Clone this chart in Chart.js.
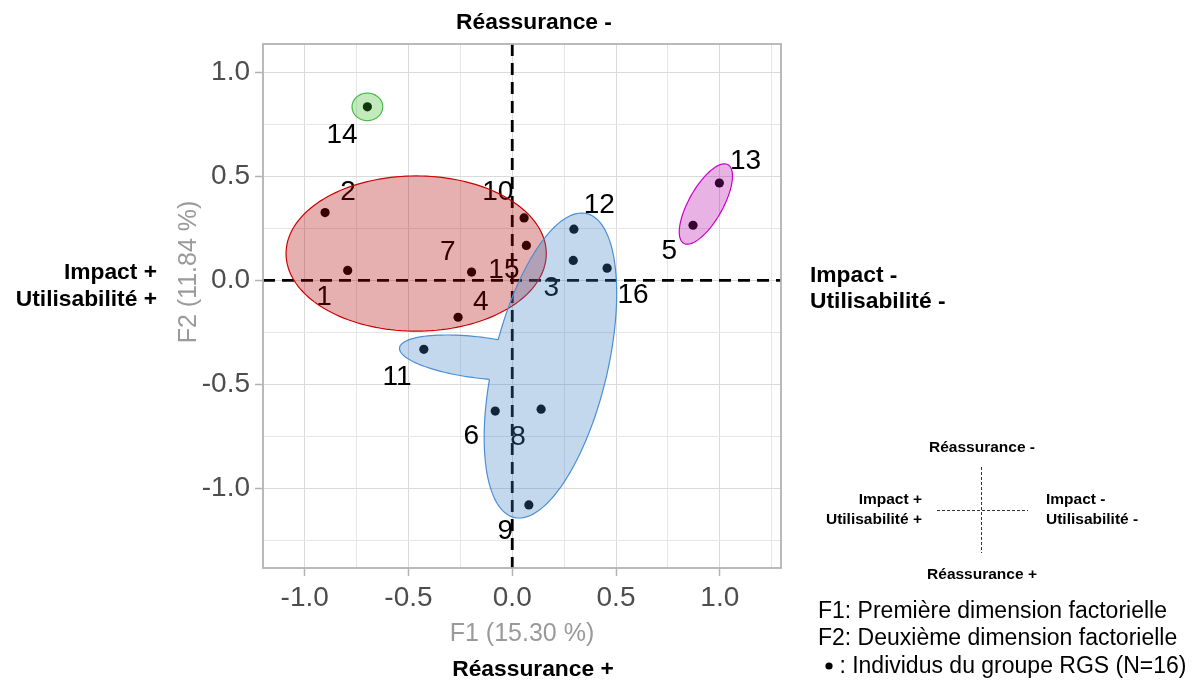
<!DOCTYPE html>
<html>
<head>
<meta charset="utf-8">
<script src="https://cdn.jsdelivr.net/npm/chart.js@4.4.1/dist/chart.umd.min.js"></script>
<style>
html,body{margin:0;padding:0;background:#ffffff;}
canvas{display:block;}
</style>
</head>
<body>
<canvas id="c" width="1204" height="680"></canvas>
<script>
// ---- data ----
const ids    = ['1','2','3','4','5','6','7','8','9','10','11','12','13','14','15','16'];
const f1     = [-0.793,-0.902, 0.294,-0.261, 0.871,-0.082,-0.196, 0.139, 0.080, 0.057,-0.426, 0.297, 0.998,-0.698, 0.068, 0.457];
const f2     = [ 0.048, 0.326, 0.096,-0.177, 0.265,-0.628, 0.040,-0.619,-1.079, 0.300,-0.331, 0.246, 0.468, 0.834, 0.168, 0.059];
// label anchor (repelled positions) in factor units
const labelF1 = [-0.907,-0.791, 0.188,-0.151, 0.757,-0.197,-0.310, 0.028,-0.033,-0.070,-0.555, 0.419, 1.124,-0.820,-0.040, 0.582];
const labelF2 = [-0.080, 0.425,-0.040,-0.104, 0.141,-0.748, 0.136,-0.755,-1.205, 0.425,-0.467, 0.361, 0.571, 0.698, 0.048,-0.072];

// cluster ellipses: centre and two semi-axis vectors, factor units
const redCentre   = [-0.463, 0.129], redU   = [0.627, 0.000], redV   = [0.000, 0.373];
const greenCentre = [-0.698, 0.834], greenU = [0.074, 0.000], greenV = [0.000, 0.066];
const pinkCentre  = [ 0.933, 0.367], pinkU  = [0.1066, 0.1888], pinkV = [0.0714,-0.0402];
const blueCentre  = [ 0.184,-0.409], blueU  = [0.175, 0.730], blueV  = [0.267,-0.064];
const lobeCentre  = [-0.160,-0.371], lobeU  = [0.383,-0.047], lobeV  = [-0.012,-0.098];

const xMin = -1.201, xMax = 1.295, yMin = -1.382, yMax = 1.136;
const tickStep = 0.25;

const FONT = "'Liberation Sans', Arial, Helvetica, sans-serif";
const isMajor = v => Math.abs(v*2 - Math.round(v*2)) < 1e-6;

function ellipsePts(chart, c, u, v, n){
  const xs = chart.scales.x, ys = chart.scales.y;
  const pts = [];
  for(let i=0;i<n;i++){
    const t = 2*Math.PI*i/n;
    const X = c[0] + Math.cos(t)*u[0] + Math.sin(t)*v[0];
    const Y = c[1] + Math.cos(t)*u[1] + Math.sin(t)*v[1];
    pts.push([xs.getPixelForValue(X), ys.getPixelForValue(Y)]);
  }
  return pts;
}
function signedArea(p){let a=0;for(let i=0;i<p.length;i++){const q=p[(i+1)%p.length];a+=p[i][0]*q[1]-q[0]*p[i][1];}return a;}
function addPoly(ctx, p){ctx.moveTo(p[0][0],p[0][1]);for(let i=1;i<p.length;i++)ctx.lineTo(p[i][0],p[i][1]);ctx.closePath();}

function drawEllipse(ctx, pts, fill, stroke){
  ctx.beginPath(); addPoly(ctx, pts);
  ctx.fillStyle = fill; ctx.fill();
  ctx.strokeStyle = stroke; ctx.lineWidth = 1.2; ctx.stroke();
}

const overlay = {
  id:'overlay',
  beforeDatasetsDraw(chart){
    const ctx = chart.ctx, a = chart.chartArea;
    const x0 = chart.scales.x.getPixelForValue(0), y0 = chart.scales.y.getPixelForValue(0);
    ctx.save();
    ctx.strokeStyle = '#000'; ctx.lineWidth = 2.8; ctx.setLineDash([12,7]);
    ctx.beginPath(); ctx.moveTo(a.left, y0); ctx.lineTo(a.right, y0); ctx.stroke();
    ctx.beginPath(); ctx.moveTo(x0, a.top); ctx.lineTo(x0, a.bottom); ctx.stroke();
    ctx.restore();
  },
  afterDatasetsDraw(chart){
    const ctx = chart.ctx, a = chart.chartArea;
    const xs = chart.scales.x, ys = chart.scales.y;
    ctx.save();
    // point labels
    ctx.fillStyle = '#000'; ctx.font = '28px ' + FONT;
    ctx.textAlign = 'center'; ctx.textBaseline = 'middle';
    ids.forEach((t,i)=>ctx.fillText(t, xs.getPixelForValue(labelF1[i]), ys.getPixelForValue(labelF2[i])));

    // red cluster
    drawEllipse(ctx, ellipsePts(chart, redCentre, redU, redV, 160), 'rgba(175,0,0,0.31)', '#cc0000');

    // blue cluster = union of main ellipse and lobe
    let m = ellipsePts(chart, blueCentre, blueU, blueV, 180);
    let l = ellipsePts(chart, lobeCentre, lobeU, lobeV, 120);
    if (Math.sign(signedArea(m)) !== Math.sign(signedArea(l))) l = l.reverse();
    ctx.beginPath(); addPoly(ctx, m); addPoly(ctx, l);
    ctx.fillStyle = 'rgba(58,125,195,0.30)'; ctx.fill('nonzero');
    ctx.strokeStyle = '#4a8fd6'; ctx.lineWidth = 1.2;
    ctx.save(); ctx.beginPath(); ctx.rect(0,0,chart.width,chart.height); addPoly(ctx, l); ctx.clip('evenodd');
    ctx.beginPath(); addPoly(ctx, m); ctx.stroke(); ctx.restore();
    ctx.save(); ctx.beginPath(); ctx.rect(0,0,chart.width,chart.height); addPoly(ctx, m); ctx.clip('evenodd');
    ctx.beginPath(); addPoly(ctx, l); ctx.stroke(); ctx.restore();

    // green & magenta clusters
    drawEllipse(ctx, ellipsePts(chart, greenCentre, greenU, greenV, 80), 'rgba(52,185,38,0.30)', '#4cbb4c');
    drawEllipse(ctx, ellipsePts(chart, pinkCentre, pinkU, pinkV, 100), 'rgba(178,0,165,0.30)', '#cc00cc');

    // panel border
    ctx.strokeStyle = '#b3b3b3'; ctx.lineWidth = 1.8; ctx.setLineDash([]);
    ctx.strokeRect(a.left, a.top, a.right - a.left, a.bottom - a.top);
    ctx.restore();
  },
  afterDraw(chart){
    const ctx = chart.ctx, a = chart.chartArea;
    ctx.save();
    // axis titles
    ctx.fillStyle = '#9a9a9a'; ctx.font = '25px ' + FONT;
    ctx.textAlign = 'center'; ctx.textBaseline = 'middle';
    ctx.fillText('F1 (15.30 %)', (a.left + a.right)/2, 634);
    ctx.save(); ctx.translate(189, (a.top + a.bottom)/2 - 34); ctx.rotate(-Math.PI/2);
    ctx.fillText('F2 (11.84 %)', 0, 0); ctx.restore();

    // bold quadrant annotations
    ctx.fillStyle = '#000'; ctx.font = 'bold 22.8px ' + FONT; ctx.textBaseline = 'alphabetic';
    ctx.textAlign = 'center';
    ctx.fillText('Réassurance -', 534, 29);
    ctx.fillText('Réassurance +', 533, 676);
    ctx.textAlign = 'right';
    ctx.fillText('Impact +', 157, 279);
    ctx.fillText('Utilisabilité +', 157, 306);
    ctx.textAlign = 'left';
    ctx.fillText('Impact -', 810, 282);
    ctx.fillText('Utilisabilité -', 810, 308);

    // small reading key
    ctx.font = 'bold 15.5px ' + FONT;
    ctx.textAlign = 'center';
    ctx.fillText('Réassurance -', 982, 452);
    ctx.fillText('Réassurance +', 982, 579);
    ctx.textAlign = 'right';
    ctx.fillText('Impact +', 922, 504);
    ctx.fillText('Utilisabilité +', 922, 524);
    ctx.textAlign = 'left';
    ctx.fillText('Impact -', 1046, 504);
    ctx.fillText('Utilisabilité -', 1046, 524);
    ctx.strokeStyle = '#333'; ctx.lineWidth = 1; ctx.setLineDash([3,2]);
    ctx.beginPath(); ctx.moveTo(981.5, 467); ctx.lineTo(981.5, 553); ctx.stroke();
    ctx.beginPath(); ctx.moveTo(937, 510.5); ctx.lineTo(1028, 510.5); ctx.stroke();
    ctx.setLineDash([]);

    // notes
    ctx.font = '23px ' + FONT; ctx.textAlign = 'left';
    ctx.fillText('F1: Première dimension factorielle', 818, 618);
    ctx.fillText('F2: Deuxième dimension factorielle', 818, 645);
    ctx.beginPath(); ctx.arc(829, 666, 3.6, 0, 2*Math.PI); ctx.fill();
    ctx.fillText(' : Individus du groupe RGS (N=16)', 833, 673);
    ctx.restore();
  }
};

const tickFont = {family: FONT, size: 28};
new Chart(document.getElementById('c'), {
  type: 'scatter',
  data: { datasets: [{
    data: f1.map((x,i)=>({x:x, y:f2[i]})),
    backgroundColor: '#000', borderColor: '#000', borderWidth: 0,
    pointRadius: 4.6, pointHoverRadius: 4.6
  }]},
  options: {
    responsive: false, animation: false, devicePixelRatio: 1, events: [],
    layout: { padding: { left: 203, right: 423, top: 44, bottom: 62 } },
    plugins: { legend: {display:false}, tooltip: {enabled:false}, title:{display:false} },
    scales: {
      x: {
        type: 'linear', min: xMin, max: xMax,
        afterFit: s => { s.height = 50; },
        ticks: { stepSize: tickStep, includeBounds: false, autoSkip: false, maxRotation: 0, padding: 5,
                 color: '#4d4d4d', font: tickFont, callback: v => isMajor(v) ? v.toFixed(1) : '' },
        grid: { color: c => isMajor(c.tick.value) ? '#dadada' : '#e6e6e6', lineWidth: 1,
                tickLength: 8, tickWidth: 1.5, tickColor: c => isMajor(c.tick.value) ? '#b3b3b3' : 'rgba(0,0,0,0)' },
        border: { display: false }
      },
      y: {
        type: 'linear', min: yMin, max: yMax,
        afterFit: s => { s.width = 60; },
        ticks: { stepSize: tickStep, includeBounds: false, autoSkip: false, padding: 5,
                 color: '#4d4d4d', font: tickFont, callback: v => isMajor(v) ? v.toFixed(1) : '' },
        grid: { color: c => isMajor(c.tick.value) ? '#dadada' : '#e6e6e6', lineWidth: 1,
                tickLength: 8, tickWidth: 1.5, tickColor: c => isMajor(c.tick.value) ? '#b3b3b3' : 'rgba(0,0,0,0)' },
        border: { display: false }
      }
    }
  },
  plugins: [overlay]
});
</script>
</body>
</html>
